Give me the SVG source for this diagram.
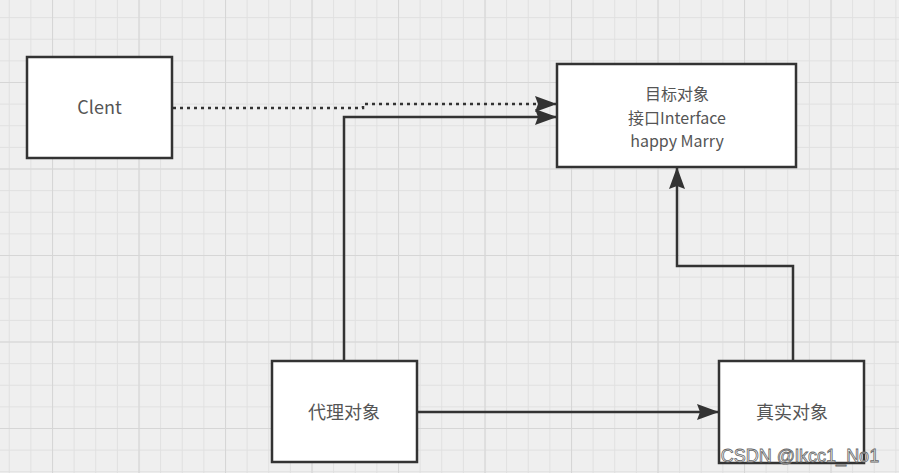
<svg xmlns="http://www.w3.org/2000/svg" width="899" height="473" viewBox="0 0 899 473">
<defs>
<pattern id="minor" x="52" y="82" width="21.625" height="21.625" patternUnits="userSpaceOnUse">
<path d="M0 0.5H21.625M0.5 0V21.625" fill="none" stroke="#e0e0e0" stroke-width="1"/>
</pattern>
<pattern id="major" x="52" y="82" width="86.5" height="86.5" patternUnits="userSpaceOnUse">
<path d="M0 0.5H86.5M0.5 0V86.5" fill="none" stroke="#d6d6d6" stroke-width="1.2"/>
</pattern>
<marker id="arr" viewBox="0 0 22 16" refX="22" refY="8" markerWidth="22" markerHeight="16" markerUnits="userSpaceOnUse" orient="auto">
<path d="M0 0L22 8L0 16L3 8Z" fill="#333"/>
</marker>
</defs>
<style>
.box{fill:#fff;stroke:#333;stroke-width:2.5}
.lbl{font-family:"Noto Sans CJK SC","Noto Sans",sans-serif;font-size:18px;fill:#555;text-anchor:middle}
.sm{font-size:16px}
.edge{fill:none;stroke:#333;stroke-width:2.5}
</style>
<rect width="899" height="473" fill="#efefef"/>
<rect width="899" height="473" fill="url(#minor)"/>
<rect width="899" height="473" fill="url(#major)"/>
<g id="connectors">
<path class="edge" d="M173 108H363V104H557" stroke-dasharray="3 4" marker-end="url(#arr)"/>
<path class="edge" d="M344 361V117H557" marker-end="url(#arr)"/>
<path class="edge" d="M417 412H719" marker-end="url(#arr)"/>
<path class="edge" d="M793 361V266H677V167" marker-end="url(#arr)"/>
</g>
<g id="client">
<rect class="box" x="27" y="57" width="145" height="101"/>
<text class="lbl" x="99.5" y="114">Clent</text>
</g>
<g id="target">
<rect class="box" x="557" y="64" width="239" height="103"/>
<text class="lbl sm" x="677" y="100">目标对象</text>
<text class="lbl sm" x="677" y="123.5">接口Interface</text>
<text class="lbl sm" x="677" y="147">happy Marry</text>
</g>
<g id="proxy">
<rect class="box" x="272" y="361" width="145" height="101"/>
<text class="lbl" x="344" y="419">代理对象</text>
</g>
<g id="real">
<rect class="box" x="719" y="361" width="145" height="102"/>
<text class="lbl" x="792" y="419">真实对象</text>
</g>
<text x="800" y="462" font-family="'Liberation Sans',sans-serif" font-size="18" fill="#fff" stroke="#666" stroke-width="0.8" text-anchor="middle">CSDN @lkcc1_No1</text>
</svg>
